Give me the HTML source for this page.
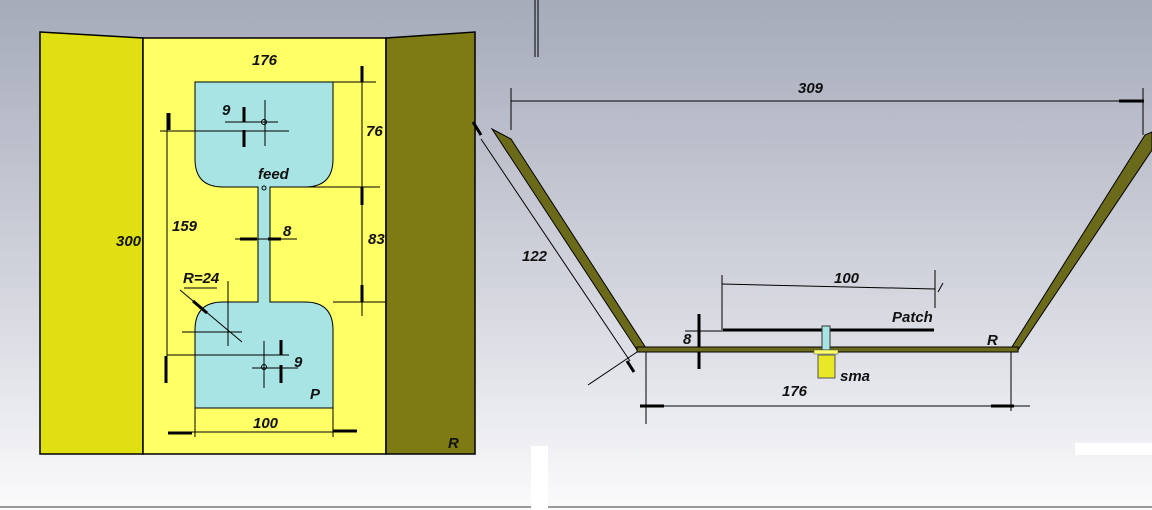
<!DOCTYPE html>
<html><head><meta charset="utf-8"><style>
html,body{margin:0;padding:0;width:1152px;height:510px;overflow:hidden}
svg{display:block}
text{font-family:"Liberation Sans",sans-serif;font-style:italic;font-weight:bold;font-size:15px;fill:#111}
</style></head><body>
<svg width="1152" height="510" viewBox="0 0 1152 510" xmlns="http://www.w3.org/2000/svg">
<defs><linearGradient id="bg" x1="0" y1="0" x2="0" y2="1">
<stop offset="0" stop-color="#a6abba"/><stop offset="0.55" stop-color="#d2d4dd"/><stop offset="1" stop-color="#fbfbfc"/></linearGradient></defs>
<rect width="1152" height="510" fill="url(#bg)"/>
<line x1="0" y1="507" x2="1152" y2="507" stroke="#999" stroke-width="2"/>
<rect x="531" y="446" width="17" height="64" fill="#fff"/>
<rect x="1075" y="443" width="77" height="12" fill="#fff"/>
<polygon points="40,32 143,38 143,454 40,454" fill="#dfdf12" stroke="#000" stroke-width="1.5"/>
<rect x="143" y="38" width="243" height="416" fill="#ffff66" stroke="#000" stroke-width="1.5"/>
<polygon points="386,38 475,32 475,454 386,454" fill="#7f7b14" stroke="#000" stroke-width="1.5"/>
<path d="M195,82 H333 V159 Q333,187 305,187 H270 V302 H305 Q333,302 333,330 V408 H195 V330 Q195,302 223,302 H258 V187 H223 Q195,187 195,159 Z" fill="#a8e4e4" stroke="#000" stroke-width="1"/>
<g stroke="#000" stroke-width="1" fill="none">
<line x1="362" y1="66" x2="362" y2="316"/>
<line x1="333" y1="82" x2="376" y2="82"/>
<line x1="305" y1="187" x2="380" y2="187"/>
<line x1="333" y1="302" x2="386" y2="302"/>
<line x1="167" y1="113" x2="167" y2="383"/>
<line x1="160" y1="131" x2="289" y2="131"/>
<line x1="167" y1="355" x2="289" y2="355"/>
<line x1="225" y1="122" x2="278" y2="122"/>
<line x1="265" y1="100" x2="265" y2="146"/>
<circle cx="264" cy="122" r="2.5"/>
<line x1="264" y1="341" x2="264" y2="388"/>
<line x1="252" y1="368" x2="298" y2="368"/>
<circle cx="264" cy="367" r="2.5"/>
<circle cx="264" cy="188" r="2"/>
<line x1="235" y1="239" x2="297" y2="239"/>
<line x1="184" y1="288" x2="217" y2="288"/>
<line x1="180" y1="290" x2="242" y2="342"/>
<line x1="182" y1="332" x2="242" y2="332"/>
<line x1="228" y1="281" x2="228" y2="346"/>
<line x1="168" y1="432" x2="357" y2="432"/>
<line x1="195" y1="408" x2="195" y2="437"/>
<line x1="333" y1="408" x2="333" y2="437"/>
<line x1="535" y1="0" x2="535" y2="57"/><line x1="538" y1="0" x2="538" y2="57"/>
<line x1="511" y1="88" x2="511" y2="130"/>
<line x1="511" y1="101" x2="1144" y2="101"/>
<line x1="1143" y1="88" x2="1143" y2="135"/>
<line x1="481" y1="139" x2="630" y2="361"/>
<line x1="588" y1="385" x2="637" y2="352"/>
<line x1="722" y1="284" x2="935" y2="289"/>
<line x1="722" y1="275" x2="722" y2="330"/>
<line x1="935" y1="270" x2="935" y2="308"/>
<line x1="938" y1="292" x2="943" y2="283"/>
<line x1="685" y1="331" x2="723" y2="331"/>
<line x1="640" y1="406" x2="1030" y2="406"/>
<line x1="646" y1="352" x2="646" y2="424"/>
<line x1="1011" y1="352" x2="1011" y2="411"/>
</g>
<g stroke="#000" stroke-width="3">
<line x1="362" y1="66" x2="362" y2="82"/><line x1="362" y1="187" x2="362" y2="205"/><line x1="362" y1="285" x2="362" y2="302"/>
<line x1="169" y1="113" x2="169" y2="130"/><line x1="166" y1="356" x2="166" y2="383"/>
<line x1="244" y1="107" x2="244" y2="122"/><line x1="244" y1="130" x2="244" y2="147"/>
<line x1="281" y1="340" x2="281" y2="355"/><line x1="281" y1="365" x2="281" y2="383"/>
<line x1="240" y1="239" x2="257" y2="239"/><line x1="268" y1="239" x2="281" y2="239"/>
<line x1="193" y1="301" x2="207" y2="313"/>
<line x1="168" y1="433" x2="192" y2="433"/><line x1="333" y1="431" x2="357" y2="431"/>
<line x1="1119" y1="101" x2="1144" y2="101"/>
<line x1="473" y1="122" x2="481" y2="135"/><line x1="627" y1="361" x2="634" y2="372"/>
<line x1="699" y1="314" x2="699" y2="369"/>
<line x1="640" y1="406" x2="664" y2="406"/><line x1="991" y1="406" x2="1014" y2="406"/>
<line x1="723" y1="330" x2="934" y2="330"/>
</g>
<polygon points="492,129 511,139 646,348 637,350" fill="#6b6a1a" stroke="#000" stroke-width="1"/>
<polygon points="1010,350 1145,135 1152,132 1152,150 1018,350" fill="#6b6a1a" stroke="#000" stroke-width="1"/>
<rect x="637" y="347" width="381" height="5" fill="#6b6a1a" stroke="#000" stroke-width="1"/>
<rect x="822" y="326" width="8" height="24" fill="#a8e4e4" stroke="#333" stroke-width="1"/>
<rect x="814" y="350" width="24" height="4" fill="#ffff66" stroke="#555" stroke-width="0.5"/>
<rect x="818" y="355" width="17" height="23" fill="#e8e826" stroke="#555" stroke-width="1"/>
<text x="252" y="65">176</text>
<text x="366" y="136">76</text>
<text x="368" y="244">83</text>
<text x="172" y="231">159</text>
<text x="222" y="115">9</text>
<text x="294" y="367">9</text>
<text x="116" y="246">300</text>
<text x="258" y="179">feed</text>
<text x="283" y="236">8</text>
<text x="183" y="283">R=24</text>
<text x="310" y="399">P</text>
<text x="253" y="428">100</text>
<text x="448" y="448">R</text>
<text x="798" y="93">309</text>
<text x="522" y="261">122</text>
<text x="834" y="283">100</text>
<text x="892" y="322">Patch</text>
<text x="683" y="344">8</text>
<text x="987" y="345">R</text>
<text x="840" y="381">sma</text>
<text x="782" y="396">176</text>
</svg>
</body></html>
